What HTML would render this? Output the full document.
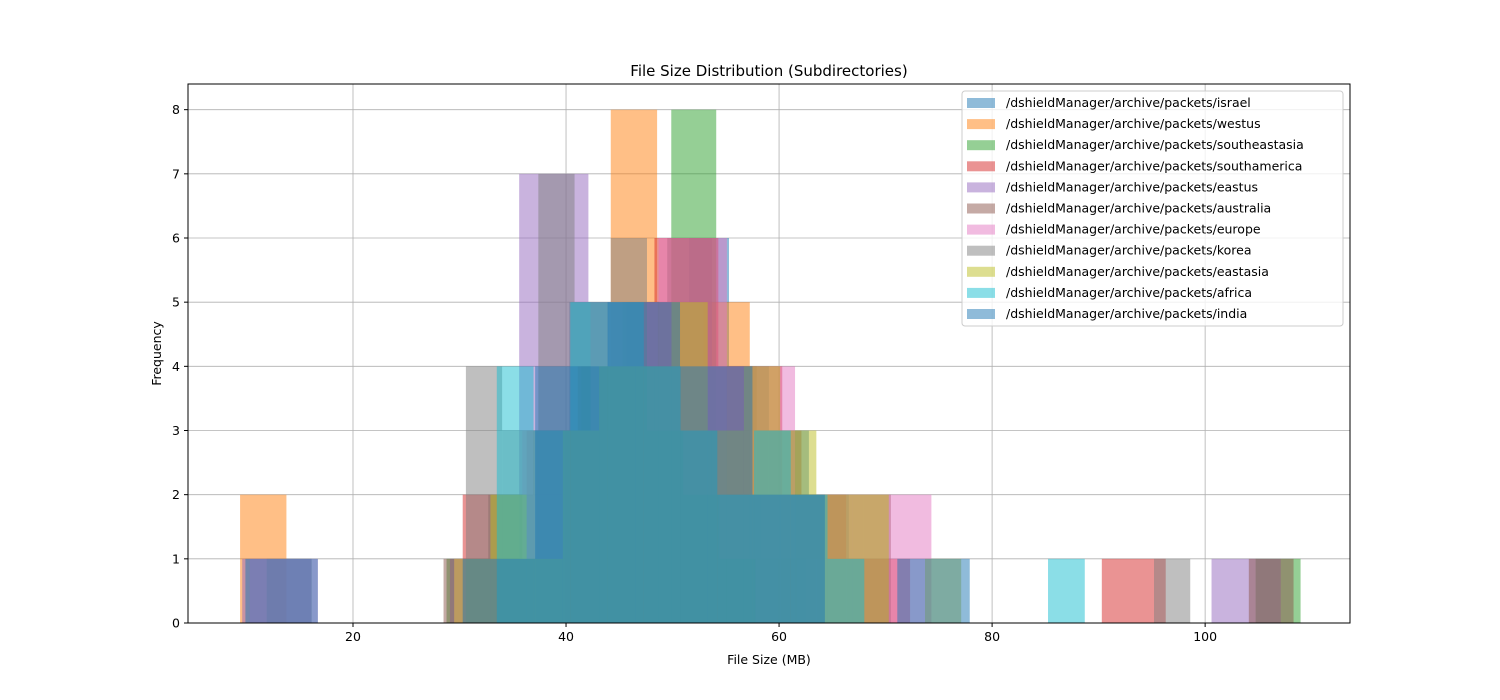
<!DOCTYPE html>
<html><head><meta charset="utf-8">
<style>
html,body{margin:0;padding:0;background:#fff;}
svg{display:block;font-family:"DejaVu Sans","Liberation Sans",sans-serif;}
</style></head>
<body>
<svg id="chart" width="1500" height="700"></svg>
<script>
const seriesNames = ["/dshieldManager/archive/packets/israel","/dshieldManager/archive/packets/westus","/dshieldManager/archive/packets/southeastasia","/dshieldManager/archive/packets/southamerica","/dshieldManager/archive/packets/eastus","/dshieldManager/archive/packets/australia","/dshieldManager/archive/packets/europe","/dshieldManager/archive/packets/korea","/dshieldManager/archive/packets/eastasia","/dshieldManager/archive/packets/africa","/dshieldManager/archive/packets/india"];
const binStarts = [40.3, 9.4, 11.9, 30.3, 9.6, 28.5, 10.3, 30.6, 29.5, 33.5, 9.9];
const binWidths = [3.75, 4.35, 4.22, 6.0, 6.5, 4.2, 6.4, 3.4, 3.4, 3.45, 6.8];
const countsIsrael = [5,4,5,6,4,3,2,1,0,0];
const countsWestus = [2,0,0,0,0,0,0,3,8,4,5];
const countsSoutheastasia = [1,0,0,0,1,1,3,4,5,8,2,1,0,0,0,0,0,0,0,0,0,0,1];
const countsSouthamerica = [2,3,5,6,4,2,1,0,0,0,1];
const countsEastus = [1,0,0,1,7,5,4,2,1,0,0,0,0,0,1];
const countsAustralia = [1,2,3,4,5,6,4,3,2,2,0,0,0,0,0,0,0,0,1];
const countsEurope = [1,0,0,1,3,5,6,4,2,2];
const countsKorea = [4,3,7,5,6,3,2,1,0,0,0,0,0,0,0,0,0,0,0,1];
const countsEastasia = [1,2,1,3,4,4,5,3,4,3,2,2,0,1];
const countsAfrica = [4,3,5,5,4,3,2,3,2,1,0,0,0,0,0,1];
const countsIndia = [1,0,0,1,4,5,4,2,0,1];
const allCounts = [countsIsrael,countsWestus,countsSoutheastasia,countsSouthamerica,countsEastus,countsAustralia,countsEurope,countsKorea,countsEastasia,countsAfrica,countsIndia];
const xTicks = [20,40,60,80,100];
const yTicks = [0,1,2,3,4,5,6,7,8];
const colors = ["#1f77b4","#ff7f0e","#2ca02c","#d62728","#9467bd","#8c564b","#e377c2","#7f7f7f","#bcbd22","#17becf","#1f77b4"];

const L=188,R=1350,T=84,B=623;
const xMin=4.51,xMax=113.6,yMin=0,yMax=8.4;
const X=v=>L+(v-xMin)/(xMax-xMin)*(R-L);
const Y=v=>B-(v-yMin)/(yMax-yMin)*(B-T);
const NS="http://www.w3.org/2000/svg";
const svg=document.getElementById('chart');
function mk(tag,attrs,parent){const e=document.createElementNS(NS,tag);for(const k in attrs)e.setAttribute(k,attrs[k]);(parent||svg).appendChild(e);return e;}

mk('rect',{x:L,y:T,width:R-L,height:B-T,fill:'#fff'});
const grid=mk('g',{});


xTicks.forEach(t=>mk('line',{x1:X(t),x2:X(t),y1:T,y2:B,stroke:'#b0b0b0','stroke-width':0.8},grid));
yTicks.forEach(t=>mk('line',{x1:L,x2:R,y1:Y(t),y2:Y(t),stroke:'#b0b0b0','stroke-width':0.8},grid));

allCounts.forEach((counts,si)=>{
  const g=mk('g',{});
  
  
  counts.forEach((c,i)=>{
    if(c<=0)return;
    const x0=binStarts[si]+i*binWidths[si], x1=x0+binWidths[si];
    const r=mk('rect',{x:X(x0),y:Y(c),width:X(x1)-X(x0),height:Y(0)-Y(c),fill:colors[si],'fill-opacity':0.5},g);
    
    
  });
});

mk('rect',{x:L,y:T,width:R-L,height:B-T,fill:'none',stroke:'#000','stroke-width':1});

const xa=mk('g',{});


xTicks.forEach(t=>{mk('line',{x1:X(t),x2:X(t),y1:B,y2:B+4,stroke:'#000'},xa);const tx=mk('text',{x:X(t),y:B+18,'font-size':12.5,'text-anchor':'middle'},xa);tx.textContent=t;});
const ya=mk('g',{});


yTicks.forEach(t=>{mk('line',{x1:L-4,x2:L,y1:Y(t),y2:Y(t),stroke:'#000'},ya);const tx=mk('text',{x:L-8,y:Y(t)+4.5,'font-size':12.5,'text-anchor':'end'},ya);tx.textContent=t;});

const xt=mk('text',{x:(L+R)/2,y:664,'font-size':12.5,'text-anchor':'middle'});
xt.textContent='File Size (MB)';


const yt=mk('text',{x:161,y:(T+B)/2,'font-size':12.5,'text-anchor':'middle',transform:`rotate(-90 161 ${(T+B)/2})`});
yt.textContent='Frequency';


const ti=mk('text',{x:(L+R)/2,y:76,'font-size':15,'text-anchor':'middle'});
ti.textContent='File Size Distribution (Subdirectories)';



const lg=mk('g',{});


mk('rect',{x:962,y:91,width:381,height:235,rx:3,fill:'#fff','fill-opacity':0.8,stroke:'#ccc'},lg);
seriesNames.forEach((n,i)=>{
  const y=102+i*21.1;
  const e=mk('g',{},lg);
  
  
  mk('rect',{x:967,y:y-4,width:28,height:10,fill:colors[i],'fill-opacity':0.5},e);
  const t=mk('text',{x:1006,y:y+5,'font-size':12.5},e);t.textContent=n;
});
</script>
</body></html>
